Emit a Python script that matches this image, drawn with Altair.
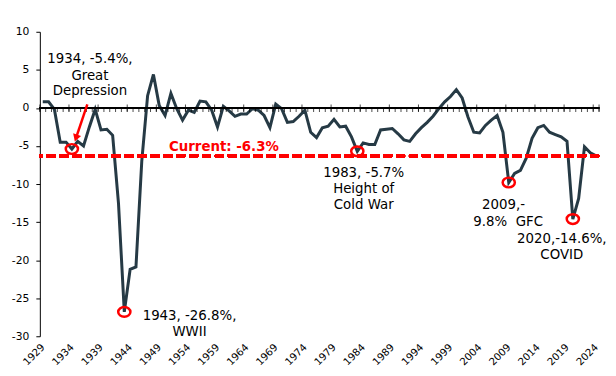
import altair as alt
import pandas as pd

# ---- data ----
years = list(range(1929, 2025))
deficit = [
    0.8, 0.8, -0.2, -4.5, -4.5, -5.4, -4.4, -5.0, -2.5, -0.2,      # 1929-1938
    -2.9, -2.8, -3.6, -12.5, -26.8, -21.2, -20.9, -7.0, 1.6, 4.4,  # 1939-1948
    0.3, -1.0, 1.9, -0.1, -1.6, -0.3, -0.6, 0.9, 0.8, -0.3,        # 1949-1958
    -2.5, 0.2, -0.4, -1.1, -0.8, -0.8, -0.1, -0.3, -1.0, -2.6,     # 1959-1968
    0.5, -0.1, -1.9, -1.8, -1.1, -0.3, -3.2, -3.9, -2.6, -2.4,     # 1969-1978
    -1.5, -2.5, -2.4, -3.8, -5.7, -4.6, -4.8, -4.8, -2.9, -2.8,    # 1979-1988
    -2.7, -3.4, -4.2, -4.4, -3.4, -2.6, -1.9, -1.1, -0.1, 0.8,     # 1989-1998
    1.5, 2.4, 1.3, -1.2, -3.2, -3.3, -2.3, -1.6, -1.0, -3.2,       # 1999-2008
    -9.8, -8.6, -8.2, -6.6, -4.0, -2.6, -2.3, -3.2, -3.5, -3.8,    # 2009-2018
    -4.4, -14.6, -11.9, -5.1, -5.9, -6.3,                          # 2019-2024
]
assert len(deficit) == len(years)

label_years = list(range(1929, 2025, 5))
y_ticks = [10, 5, 0, -5, -10, -15, -20, -25, -30]
current_value = -6.3
current_text = "Current: -6.3%"

event_years = [1934, 1943, 1983, 2009, 2020]
event_values = [-5.4, -26.8, -5.7, -9.8, -14.6]

note_text = ["1934, -5.4%,", "Great", "Depression",
             "1943, -26.8%,", "WWII",
             "1983, -5.7%", "Height of", "Cold War",
             "2009,-", "9.8%\u00a0\u00a0GFC",
             "2020,-14.6%,", "COVID"]
note_x = [1937.1, 1937.1, 1937.1,
          1954.2, 1954.2,
          1984.1, 1984.1, 1984.1,
          2008.1, 2008.9,
          2018.1, 2018.1]
note_y = [5.86, 3.73, 1.63,
          -27.8, -29.95,
          -9.05, -11.2, -13.25,
          -13.3, -15.45,
          -17.75, -19.85]

arrow_start = (1936.65, 0.46)
arrow_end = (1934.7, -3.97)

# ---- tables ----
df = pd.DataFrame({"year": years, "value": deficit})
events = pd.DataFrame({"year": event_years, "value": event_values})
notes = pd.DataFrame({"x": note_x, "y": note_y, "text": note_text})
minor = pd.DataFrame({"x": [y - 0.5 for y in years] + [years[-1] + 0.5]})
major = pd.DataFrame({"x": [years[0] - 0.5 + i for i in range(0, len(years) + 1, 5)] + [years[-1] + 0.5]})
arrow = pd.DataFrame({"x": [arrow_start[0]], "y": [arrow_start[1]],
                      "x2": [arrow_end[0]], "y2": [arrow_end[1]]})
cur = pd.DataFrame({"x": [1960.1], "y": [-5.65], "t": [current_text]})

FONT = "DejaVu Sans"
DARK = "#263A45"
RED = "#FF0000"

xscale = alt.Scale(domain=[years[0] - 0.5, years[-1] + 0.5], nice=False, zero=False)
yscale = alt.Scale(domain=[-30, 10], nice=False)

xaxis = alt.Axis(values=label_years, format="d", labelAngle=-45, title=None, grid=False,
                 ticks=False, domain=False, labelPadding=9, labelAlign="right",
                 labelBaseline="middle", labelFont=FONT, labelFontSize=10.2,
                 labelColor="black", labelOverlap=False, labelFlush=False, labelBound=False)
yaxis = alt.Axis(values=y_ticks, title=None, grid=False, labelExpr="toString(datum.value)",
                 domainColor="black", tickColor="black", tickSize=4, labelPadding=7,
                 domainWidth=1, tickWidth=1, labelFont=FONT, labelFontSize=10.8,
                 labelColor="black", labelOverlap=False, labelFlush=False, labelBound=False)


def X(field):
    return alt.X(field, scale=xscale, axis=xaxis)


def Y(field):
    return alt.Y(field, scale=yscale, axis=yaxis)


def YD(v):
    return alt.datum(v, scale=yscale, axis=yaxis)


line = alt.Chart(df).mark_line(color=DARK, strokeWidth=3).encode(
    x=X("year:Q"), y=Y("value:Q"))

zero_rule = alt.Chart(df).mark_rule(color="black", strokeWidth=1).encode(y=YD(0))

minor_ticks = alt.Chart(minor).mark_tick(color="black", orient="vertical", size=4,
                                         thickness=1, yOffset=2).encode(
    x=X("x:Q"), y=YD(0))
major_ticks = alt.Chart(major).mark_tick(color="black", orient="vertical", size=7,
                                         thickness=1).encode(
    x=X("x:Q"), y=YD(0))

current_rule = alt.Chart(df).mark_rule(color=RED, strokeWidth=3, strokeDash=[9, 4]).encode(
    y=YD(current_value))

current_label = alt.Chart(cur).mark_text(
    color=RED, font=FONT, fontSize=13.4, fontWeight="bold", align="center", baseline="alphabetic"
).encode(x=X("x:Q"), y=Y("y:Q"), text="t:N")

ellipse = "M-1,0A1,0.8,0,1,1,1,0A1,0.8,0,1,1,-1,0Z"
circles = alt.Chart(events).mark_point(shape=ellipse, size=150, filled=False, color=RED,
                                       strokeWidth=2.5, opacity=1).encode(
    x=X("year:Q"), y=Y("value:Q"))

arrow_line = alt.Chart(arrow).mark_rule(color=RED, strokeWidth=2.5).encode(
    x=X("x:Q"), y=Y("y:Q"), x2="x2:Q", y2="y2:Q")
arrow_head = alt.Chart(arrow).mark_point(shape="triangle-down", size=70, filled=True, color=RED,
                                         angle=19, opacity=1).encode(
    x=X("x2:Q"), y=Y("y2:Q"))

note_marks = alt.Chart(notes).mark_text(color="black", font=FONT, fontSize=13.4,
                                        align="center", baseline="alphabetic").encode(
    x=X("x:Q"), y=Y("y:Q"), text="text:N")

chart = alt.layer(
    line, zero_rule, minor_ticks, major_ticks, current_rule, current_label,
    circles, arrow_line, arrow_head, note_marks
).properties(
    width=562, height=306,
    padding={"left": 32, "top": 23, "right": 9, "bottom": 31},
    autosize="none", background="white",
).configure_view(stroke=None)

chart.save("out.html", embed_options={"renderer": "svg", "actions": False})
